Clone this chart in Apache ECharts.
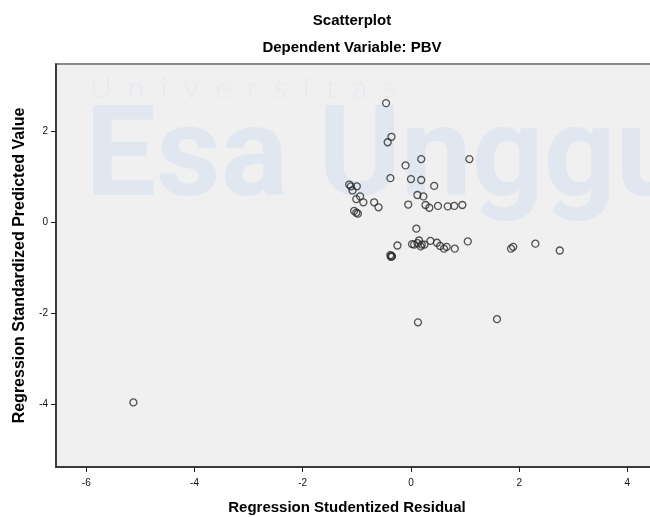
<!DOCTYPE html>
<html>
<head>
<meta charset="utf-8">
<script src="https://cdn.jsdelivr.net/npm/echarts@6/dist/echarts.min.js"></script>
<style>
  html, body { margin: 0; padding: 0; background: #fff; }
  #main { width: 650px; height: 517px; }
</style>
</head>
<body>
<div id="main"></div>
<script>
// studentized residual (x) and standardized predicted value (y)
var residual = [-0.46, -0.36, -0.43, -0.10, 0.19, 1.08, -0.38, 0.00, 0.19, 0.43,
  -1.14, -1.11, -1.00, -1.08, -0.94, -1.01, -0.88, -0.68, -0.60, -1.05,
  -1.01, -0.98, 0.12, 0.23, -0.05, 0.27, 0.34, 0.50, 0.68, 0.80,
  0.95, 0.10, -0.25, -0.38, -0.36, -0.37, -0.35, 0.02, 0.06, 0.12,
  0.15, 0.18, 0.20, 0.25, 0.36, 0.48, 0.54, 0.61, 0.66, 0.81,
  1.05, 1.85, 1.89, 2.30, 2.75, 0.13, 1.59, -5.13]
var predicted = [2.61, 1.87, 1.75, 1.24, 1.38, 1.38, 0.96, 0.94, 0.92, 0.79,
  0.82, 0.78, 0.78, 0.69, 0.56, 0.50, 0.43, 0.43, 0.32, 0.24,
  0.20, 0.18, 0.59, 0.56, 0.38, 0.37, 0.31, 0.35, 0.34, 0.35,
  0.37, -0.15, -0.52, -0.73, -0.75, -0.77, -0.76, -0.49, -0.50, -0.47,
  -0.41, -0.54, -0.50, -0.50, -0.42, -0.46, -0.53, -0.59, -0.55, -0.59,
  -0.43, -0.59, -0.55, -0.48, -0.63, -2.21, -2.14, -3.97]
var xTicks = [-6, -4, -2, 0, 2, 4]
var yTicks = [-4, -2, 0, 2]

var points = residual.map(function (r, i) { return [r, predicted[i]] })

var boldText = { fontSize: 15, fontWeight: 'bold', color: '#000', fontFamily: 'Liberation Sans' }

var chart = echarts.init(document.getElementById('main'))
chart.setOption({
  backgroundColor: '#fff',
  animation: false,
  textStyle: { fontFamily: 'Liberation Sans' },
  title: [
    { text: 'Scatterplot', left: 347, top: 8, textAlign: 'center', textStyle: boldText },
    { text: 'Dependent Variable: PBV', left: 347, top: 35, textAlign: 'center', textStyle: boldText }
  ],
  // faint watermark behind the plot
  graphic: [
    {
      type: 'text', left: 90, top: 73, z: 1, silent: true,
      style: { text: 'U  n  i  v  e  r  s  i  t  a  s', fontSize: 30, fontFamily: 'Lato', fontWeight: 300, fill: '#e4eaf2' }
    },
    {
      type: 'text', left: 85, top: 100, z: 1, silent: true,
      style: { text: 'Esa', fontSize: 126, fontFamily: 'Roboto', fontWeight: 'bold', fill: '#e0e7f0' }
    },
    {
      type: 'text', left: 318, top: 100, z: 1, silent: true,
      style: { text: 'Unggul', fontSize: 126, fontFamily: 'Roboto', fontWeight: 'bold', fill: '#e0e7f0' }
    }
  ],
  grid: {
    left: 56, top: 64, width: 606, height: 403,
    outerBoundsMode: 'none', containLabel: false,
    show: true, backgroundColor: '#f0f0f0', borderColor: '#8a8a8a', borderWidth: 2
  },
  xAxis: {
    type: 'value', min: -6.56, max: 4.64,
    name: 'Regression Studentized Residual', nameLocation: 'middle', nameGap: 33,
    nameTextStyle: Object.assign({}, boldText, { padding: [0, 24, 0, 0] }),
    axisLine: { show: true, onZero: false, lineStyle: { color: '#222', width: 1.5 } },
    axisTick: { show: true, length: 5, customValues: xTicks, lineStyle: { color: '#222' } },
    axisLabel: { customValues: xTicks, fontSize: 10, color: '#111', margin: 11 },
    splitLine: { show: false }
  },
  yAxis: {
    type: 'value', min: -5.39, max: 3.47,
    name: 'Regression Standardized Predicted Value', nameLocation: 'middle', nameGap: 28,
    nameTextStyle: Object.assign({}, boldText, { fontSize: 16 }),
    axisLine: { show: true, onZero: false, lineStyle: { color: '#222', width: 1.5 } },
    axisTick: { show: true, length: 5, customValues: yTicks, lineStyle: { color: '#222' } },
    axisLabel: { customValues: yTicks, fontSize: 10, color: '#111', margin: 8 },
    splitLine: { show: false }
  },
  series: [{
    type: 'scatter',
    data: points,
    symbol: 'circle',
    symbolSize: 7,
    z: 5,
    itemStyle: { color: 'rgba(0,0,0,0)', borderColor: '#2a2a2a', borderWidth: 1.3 }
  }]
})
</script>
</body>
</html>
